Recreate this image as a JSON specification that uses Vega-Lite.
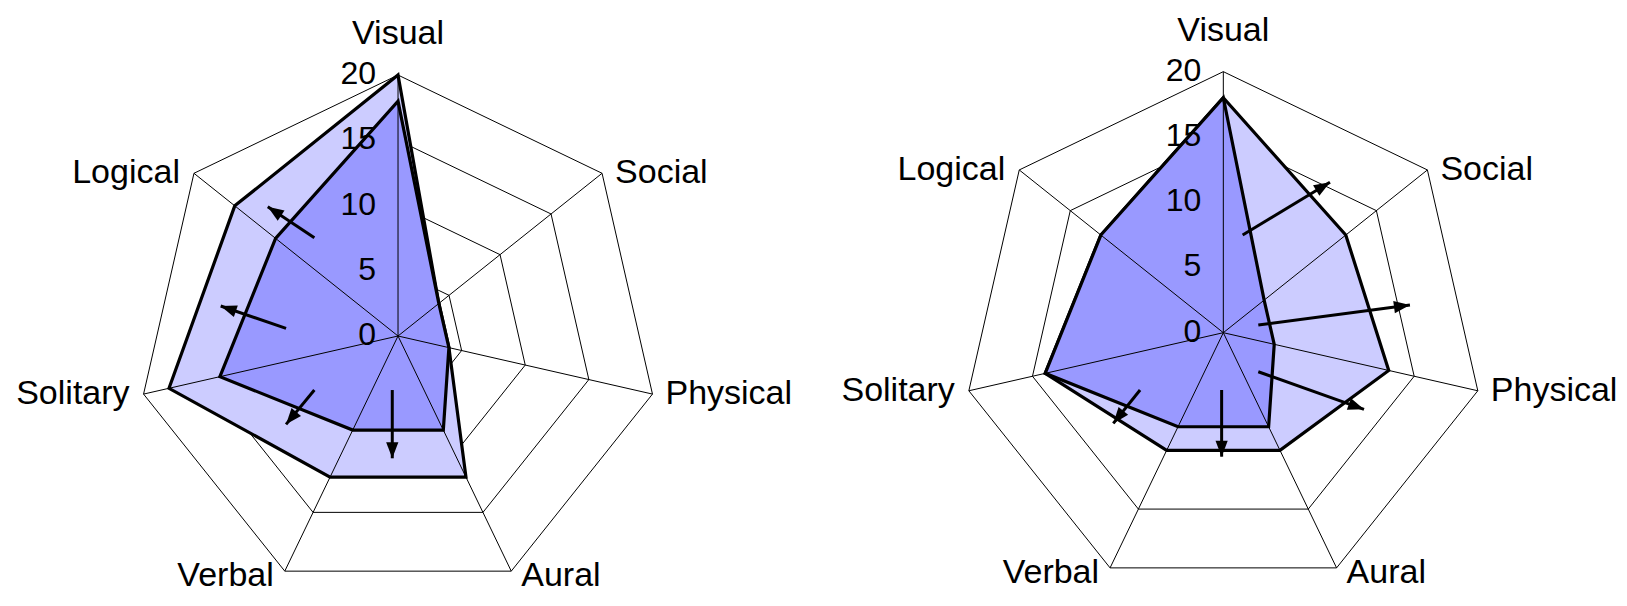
{
  "$schema": "https://vega.github.io/schema/vega-lite/v6.json",
  "background": "white",
  "padding": 0,
  "spacing": 0,
  "bounds": "flush",
  "datasets": {
    "axes": [
      {"axis": "Visual", "k": 0}, {"axis": "Social", "k": 1}, {"axis": "Physical", "k": 2},
      {"axis": "Aural", "k": 3}, {"axis": "Verbal", "k": 4}, {"axis": "Solitary", "k": 5},
      {"axis": "Logical", "k": 6}
    ],
    "rings": [
      {"level": 5, "k": 0}, {"level": 5, "k": 1}, {"level": 5, "k": 2}, {"level": 5, "k": 3}, {"level": 5, "k": 4}, {"level": 5, "k": 5}, {"level": 5, "k": 6},
      {"level": 10, "k": 0}, {"level": 10, "k": 1}, {"level": 10, "k": 2}, {"level": 10, "k": 3}, {"level": 10, "k": 4}, {"level": 10, "k": 5}, {"level": 10, "k": 6},
      {"level": 15, "k": 0}, {"level": 15, "k": 1}, {"level": 15, "k": 2}, {"level": 15, "k": 3}, {"level": 15, "k": 4}, {"level": 15, "k": 5}, {"level": 15, "k": 6},
      {"level": 20, "k": 0}, {"level": 20, "k": 1}, {"level": 20, "k": 2}, {"level": 20, "k": 3}, {"level": 20, "k": 4}, {"level": 20, "k": 5}, {"level": 20, "k": 6}
    ],
    "ticks": [{"level": 0}, {"level": 5}, {"level": 10}, {"level": 15}, {"level": 20}],
    "profiles": [
      {"chart": "left", "series": "alt", "axis": "Visual", "k": 0, "value": 20},
      {"chart": "left", "series": "alt", "axis": "Social", "k": 1, "value": 4},
      {"chart": "left", "series": "alt", "axis": "Physical", "k": 2, "value": 4},
      {"chart": "left", "series": "alt", "axis": "Aural", "k": 3, "value": 12},
      {"chart": "left", "series": "alt", "axis": "Verbal", "k": 4, "value": 12},
      {"chart": "left", "series": "alt", "axis": "Solitary", "k": 5, "value": 18},
      {"chart": "left", "series": "alt", "axis": "Logical", "k": 6, "value": 16},
      {"chart": "left", "series": "base", "axis": "Visual", "k": 0, "value": 18},
      {"chart": "left", "series": "base", "axis": "Social", "k": 1, "value": 4},
      {"chart": "left", "series": "base", "axis": "Physical", "k": 2, "value": 4},
      {"chart": "left", "series": "base", "axis": "Aural", "k": 3, "value": 8},
      {"chart": "left", "series": "base", "axis": "Verbal", "k": 4, "value": 8},
      {"chart": "left", "series": "base", "axis": "Solitary", "k": 5, "value": 14},
      {"chart": "left", "series": "base", "axis": "Logical", "k": 6, "value": 12},
      {"chart": "right", "series": "alt", "axis": "Visual", "k": 0, "value": 18},
      {"chart": "right", "series": "alt", "axis": "Social", "k": 1, "value": 12},
      {"chart": "right", "series": "alt", "axis": "Physical", "k": 2, "value": 13},
      {"chart": "right", "series": "alt", "axis": "Aural", "k": 3, "value": 10},
      {"chart": "right", "series": "alt", "axis": "Verbal", "k": 4, "value": 10},
      {"chart": "right", "series": "alt", "axis": "Solitary", "k": 5, "value": 14},
      {"chart": "right", "series": "alt", "axis": "Logical", "k": 6, "value": 12},
      {"chart": "right", "series": "base", "axis": "Visual", "k": 0, "value": 18},
      {"chart": "right", "series": "base", "axis": "Social", "k": 1, "value": 4},
      {"chart": "right", "series": "base", "axis": "Physical", "k": 2, "value": 4},
      {"chart": "right", "series": "base", "axis": "Aural", "k": 3, "value": 8},
      {"chart": "right", "series": "base", "axis": "Verbal", "k": 4, "value": 8},
      {"chart": "right", "series": "base", "axis": "Solitary", "k": 5, "value": 14},
      {"chart": "right", "series": "base", "axis": "Logical", "k": 6, "value": 12}
    ],
    "arrows": [
      {"chart": "left", "tx": -6.41, "ty": 7.53, "x": -9.98, "y": 9.91},
      {"chart": "left", "tx": -8.58, "ty": 0.59, "x": -13.59, "y": 2.3},
      {"chart": "left", "tx": -6.41, "ty": -4.14, "x": -8.58, "y": -6.77},
      {"chart": "left", "tx": -0.44, "ty": -4.14, "x": -0.44, "y": -9.37},
      {"chart": "right", "tx": 1.48, "ty": 7.49, "x": 8.17, "y": 11.52},
      {"chart": "right", "tx": 2.68, "ty": 0.59, "x": 14.3, "y": 2.12},
      {"chart": "right", "tx": 2.68, "ty": -2.99, "x": 10.78, "y": -5.87},
      {"chart": "right", "tx": -0.13, "ty": -4.39, "x": -0.13, "y": -9.5},
      {"chart": "right", "tx": -6.38, "ty": -4.39, "x": -8.43, "y": -6.95}
    ]
  },
  "hconcat": [
    {
      "width": 813,
      "height": 606,
      "encoding": {
        "x": {"field": "x", "type": "quantitative", "scale": {"domain": [-30.5, 31.8], "nice": false, "zero": false}, "axis": null},
        "y": {"field": "y", "type": "quantitative", "scale": {"domain": [-20.69, 25.75], "nice": false, "zero": false}, "axis": null}
      },
      "layer": [
        {
          "data": {"name": "rings"},
          "transform": [
            {"calculate": "datum.k * 2 * PI / 7", "as": "a"},
            {"calculate": "datum.level * sin(datum.a)", "as": "x"},
            {"calculate": "datum.level * cos(datum.a)", "as": "y"}
          ],
          "mark": {"type": "line", "interpolate": "linear-closed", "stroke": "black", "strokeWidth": 1},
          "encoding": {"detail": {"field": "level"}, "order": {"field": "k"}}
        },
        {
          "data": {"name": "profiles"},
          "transform": [
            {"filter": "datum.chart == 'left' && datum.series == 'alt'"},
            {"calculate": "datum.k * 2 * PI / 7", "as": "a"},
            {"calculate": "datum.value * sin(datum.a)", "as": "x"},
            {"calculate": "datum.value * cos(datum.a)", "as": "y"}
          ],
          "mark": {"type": "line", "interpolate": "linear-closed", "fill": "#CCCCFF", "stroke": "black", "strokeWidth": 3.2},
          "encoding": {"order": {"field": "k"}}
        },
        {
          "data": {"name": "profiles"},
          "transform": [
            {"filter": "datum.chart == 'left' && datum.series == 'base'"},
            {"calculate": "datum.k * 2 * PI / 7", "as": "a"},
            {"calculate": "datum.value * sin(datum.a)", "as": "x"},
            {"calculate": "datum.value * cos(datum.a)", "as": "y"}
          ],
          "mark": {"type": "line", "interpolate": "linear-closed", "fill": "#9999FF", "stroke": "black", "strokeWidth": 3.2},
          "encoding": {"order": {"field": "k"}}
        },
        {
          "data": {"name": "axes"},
          "transform": [
            {"calculate": "datum.k * 2 * PI / 7", "as": "a"},
            {"calculate": "20 * sin(datum.a)", "as": "x"},
            {"calculate": "20 * cos(datum.a)", "as": "y"}
          ],
          "mark": {"type": "rule", "stroke": "black", "strokeWidth": 1},
          "encoding": {"x2": {"datum": 0}, "y2": {"datum": 0}}
        },
        {
          "data": {"name": "arrows"},
          "transform": [{"filter": "datum.chart == 'left'"}],
          "mark": {"type": "rule", "stroke": "black", "strokeWidth": 3},
          "encoding": {"x2": {"field": "tx"}, "y2": {"field": "ty"}}
        },
        {
          "data": {"name": "arrows"},
          "transform": [
            {"filter": "datum.chart == 'left'"},
            {"calculate": "atan2(datum.x - datum.tx, datum.y - datum.ty) * 180 / PI", "as": "rot"}
          ],
          "mark": {"type": "point", "shape": "M0,0L-0.42,1.1L0.42,1.1Z", "filled": true, "fill": "black", "stroke": null, "size": 850, "opacity": 1},
          "encoding": {"angle": {"field": "rot", "type": "quantitative", "scale": null}}
        },
        {
          "data": {"name": "ticks"},
          "transform": [
            {"calculate": "0", "as": "x"},
            {"calculate": "datum.level", "as": "y"}
          ],
          "mark": {"type": "text", "align": "right", "baseline": "middle", "dx": -22, "dy": -1, "font": "Liberation Sans", "fontSize": 32, "fill": "black"},
          "encoding": {"text": {"field": "level"}}
        },
        {
          "data": {"name": "axes"},
          "transform": [
            {"filter": "datum.axis == 'Visual'"},
            {"calculate": "0", "as": "x"},
            {"calculate": "20", "as": "y"}
          ],
          "mark": {"type": "text", "align": "center", "baseline": "alphabetic", "dy": -31, "font": "Liberation Sans", "fontSize": 34, "fill": "black"},
          "encoding": {"text": {"field": "axis"}}
        },
        {
          "data": {"name": "axes"},
          "transform": [
            {"filter": "datum.axis == 'Social' || datum.axis == 'Physical'"},
            {"calculate": "datum.k * 2 * PI / 7", "as": "a"},
            {"calculate": "20 * sin(datum.a)", "as": "x"},
            {"calculate": "20 * cos(datum.a)", "as": "y"}
          ],
          "mark": {"type": "text", "align": "left", "baseline": "middle", "dx": 13, "font": "Liberation Sans", "fontSize": 34, "fill": "black"},
          "encoding": {"text": {"field": "axis"}}
        },
        {
          "data": {"name": "axes"},
          "transform": [
            {"filter": "datum.axis == 'Logical' || datum.axis == 'Solitary'"},
            {"calculate": "datum.k * 2 * PI / 7", "as": "a"},
            {"calculate": "20 * sin(datum.a)", "as": "x"},
            {"calculate": "20 * cos(datum.a)", "as": "y"}
          ],
          "mark": {"type": "text", "align": "right", "baseline": "middle", "dx": -14, "font": "Liberation Sans", "fontSize": 34, "fill": "black"},
          "encoding": {"text": {"field": "axis"}}
        },
        {
          "data": {"name": "axes"},
          "transform": [
            {"filter": "datum.axis == 'Aural'"},
            {"calculate": "datum.k * 2 * PI / 7", "as": "a"},
            {"calculate": "20 * sin(datum.a)", "as": "x"},
            {"calculate": "20 * cos(datum.a)", "as": "y"}
          ],
          "mark": {"type": "text", "align": "left", "baseline": "middle", "dx": 10, "dy": 5, "font": "Liberation Sans", "fontSize": 34, "fill": "black"},
          "encoding": {"text": {"field": "axis"}}
        },
        {
          "data": {"name": "axes"},
          "transform": [
            {"filter": "datum.axis == 'Verbal'"},
            {"calculate": "datum.k * 2 * PI / 7", "as": "a"},
            {"calculate": "20 * sin(datum.a)", "as": "x"},
            {"calculate": "20 * cos(datum.a)", "as": "y"}
          ],
          "mark": {"type": "text", "align": "right", "baseline": "middle", "dx": -11, "dy": 5, "font": "Liberation Sans", "fontSize": 34, "fill": "black"},
          "encoding": {"text": {"field": "axis"}}
        }
      ]
    },
    {
      "width": 814,
      "height": 606,
      "encoding": {
        "x": {"field": "x", "type": "quantitative", "scale": {"domain": [-31.44, 30.93], "nice": false, "zero": false}, "axis": null},
        "y": {"field": "y", "type": "quantitative", "scale": {"domain": [-20.94, 25.49], "nice": false, "zero": false}, "axis": null}
      },
      "layer": [
        {
          "data": {"name": "rings"},
          "transform": [
            {"calculate": "datum.k * 2 * PI / 7", "as": "a"},
            {"calculate": "datum.level * sin(datum.a)", "as": "x"},
            {"calculate": "datum.level * cos(datum.a)", "as": "y"}
          ],
          "mark": {"type": "line", "interpolate": "linear-closed", "stroke": "black", "strokeWidth": 1},
          "encoding": {"detail": {"field": "level"}, "order": {"field": "k"}}
        },
        {
          "data": {"name": "profiles"},
          "transform": [
            {"filter": "datum.chart == 'right' && datum.series == 'alt'"},
            {"calculate": "datum.k * 2 * PI / 7", "as": "a"},
            {"calculate": "datum.value * sin(datum.a)", "as": "x"},
            {"calculate": "datum.value * cos(datum.a)", "as": "y"}
          ],
          "mark": {"type": "line", "interpolate": "linear-closed", "fill": "#CCCCFF", "stroke": "black", "strokeWidth": 3.2},
          "encoding": {"order": {"field": "k"}}
        },
        {
          "data": {"name": "profiles"},
          "transform": [
            {"filter": "datum.chart == 'right' && datum.series == 'base'"},
            {"calculate": "datum.k * 2 * PI / 7", "as": "a"},
            {"calculate": "datum.value * sin(datum.a)", "as": "x"},
            {"calculate": "datum.value * cos(datum.a)", "as": "y"}
          ],
          "mark": {"type": "line", "interpolate": "linear-closed", "fill": "#9999FF", "stroke": "black", "strokeWidth": 3.2},
          "encoding": {"order": {"field": "k"}}
        },
        {
          "data": {"name": "axes"},
          "transform": [
            {"calculate": "datum.k * 2 * PI / 7", "as": "a"},
            {"calculate": "20 * sin(datum.a)", "as": "x"},
            {"calculate": "20 * cos(datum.a)", "as": "y"}
          ],
          "mark": {"type": "rule", "stroke": "black", "strokeWidth": 1},
          "encoding": {"x2": {"datum": 0}, "y2": {"datum": 0}}
        },
        {
          "data": {"name": "arrows"},
          "transform": [{"filter": "datum.chart == 'right'"}],
          "mark": {"type": "rule", "stroke": "black", "strokeWidth": 3},
          "encoding": {"x2": {"field": "tx"}, "y2": {"field": "ty"}}
        },
        {
          "data": {"name": "arrows"},
          "transform": [
            {"filter": "datum.chart == 'right'"},
            {"calculate": "atan2(datum.x - datum.tx, datum.y - datum.ty) * 180 / PI", "as": "rot"}
          ],
          "mark": {"type": "point", "shape": "M0,0L-0.42,1.1L0.42,1.1Z", "filled": true, "fill": "black", "stroke": null, "size": 850, "opacity": 1},
          "encoding": {"angle": {"field": "rot", "type": "quantitative", "scale": null}}
        },
        {
          "data": {"name": "ticks"},
          "transform": [
            {"calculate": "0", "as": "x"},
            {"calculate": "datum.level", "as": "y"}
          ],
          "mark": {"type": "text", "align": "right", "baseline": "middle", "dx": -22, "dy": -1, "font": "Liberation Sans", "fontSize": 32, "fill": "black"},
          "encoding": {"text": {"field": "level"}}
        },
        {
          "data": {"name": "axes"},
          "transform": [
            {"filter": "datum.axis == 'Visual'"},
            {"calculate": "0", "as": "x"},
            {"calculate": "20", "as": "y"}
          ],
          "mark": {"type": "text", "align": "center", "baseline": "alphabetic", "dy": -31, "font": "Liberation Sans", "fontSize": 34, "fill": "black"},
          "encoding": {"text": {"field": "axis"}}
        },
        {
          "data": {"name": "axes"},
          "transform": [
            {"filter": "datum.axis == 'Social' || datum.axis == 'Physical'"},
            {"calculate": "datum.k * 2 * PI / 7", "as": "a"},
            {"calculate": "20 * sin(datum.a)", "as": "x"},
            {"calculate": "20 * cos(datum.a)", "as": "y"}
          ],
          "mark": {"type": "text", "align": "left", "baseline": "middle", "dx": 13, "font": "Liberation Sans", "fontSize": 34, "fill": "black"},
          "encoding": {"text": {"field": "axis"}}
        },
        {
          "data": {"name": "axes"},
          "transform": [
            {"filter": "datum.axis == 'Logical' || datum.axis == 'Solitary'"},
            {"calculate": "datum.k * 2 * PI / 7", "as": "a"},
            {"calculate": "20 * sin(datum.a)", "as": "x"},
            {"calculate": "20 * cos(datum.a)", "as": "y"}
          ],
          "mark": {"type": "text", "align": "right", "baseline": "middle", "dx": -14, "font": "Liberation Sans", "fontSize": 34, "fill": "black"},
          "encoding": {"text": {"field": "axis"}}
        },
        {
          "data": {"name": "axes"},
          "transform": [
            {"filter": "datum.axis == 'Aural'"},
            {"calculate": "datum.k * 2 * PI / 7", "as": "a"},
            {"calculate": "20 * sin(datum.a)", "as": "x"},
            {"calculate": "20 * cos(datum.a)", "as": "y"}
          ],
          "mark": {"type": "text", "align": "left", "baseline": "middle", "dx": 10, "dy": 5, "font": "Liberation Sans", "fontSize": 34, "fill": "black"},
          "encoding": {"text": {"field": "axis"}}
        },
        {
          "data": {"name": "axes"},
          "transform": [
            {"filter": "datum.axis == 'Verbal'"},
            {"calculate": "datum.k * 2 * PI / 7", "as": "a"},
            {"calculate": "20 * sin(datum.a)", "as": "x"},
            {"calculate": "20 * cos(datum.a)", "as": "y"}
          ],
          "mark": {"type": "text", "align": "right", "baseline": "middle", "dx": -11, "dy": 5, "font": "Liberation Sans", "fontSize": 34, "fill": "black"},
          "encoding": {"text": {"field": "axis"}}
        }
      ]
    }
  ],
  "config": {
    "view": {"stroke": null}
  }
}
